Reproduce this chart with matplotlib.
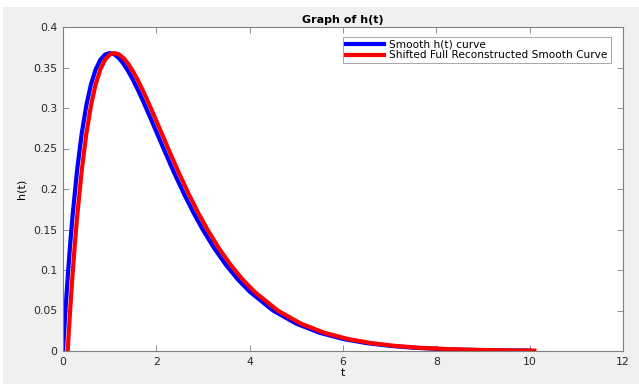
import matplotlib
matplotlib.use("Agg")
import matplotlib.pyplot as plt
from matplotlib.patches import Rectangle
from matplotlib.ticker import FuncFormatter

plt.rcParams['font.family'] = ['DejaVu Sans']

# values
t = [0, 0.05, 0.1, 0.15, 0.2, 0.3, 0.4, 0.5, 0.6, 0.7, 0.8, 0.9, 1.0, 1.1, 1.2, 1.3,
     1.4, 1.5, 1.6, 1.7, 1.8, 1.9, 2.0, 2.2, 2.4, 2.6, 2.8, 3.0, 3.25, 3.5, 3.75,
     4.0, 4.5, 5.0, 5.5, 6.0, 6.5, 7.0, 7.5, 8.0, 8.5, 9.0, 9.5, 10.0]
h = [0, 0.0476, 0.0905, 0.1291, 0.1637, 0.2222, 0.2681, 0.3033, 0.3293, 0.3476,
     0.3595, 0.3659, 0.3679, 0.3662, 0.3614, 0.3543, 0.3452, 0.3347, 0.3230, 0.3106,
     0.2975, 0.2842, 0.2707, 0.2438, 0.2177, 0.1931, 0.1703, 0.1494, 0.1260, 0.1057,
     0.0882, 0.0733, 0.0500, 0.0337, 0.0225, 0.0149, 0.0098, 0.0064, 0.0041, 0.0027,
     0.0017, 0.0011, 0.0007, 0.0005]
t_shift = [v + 0.1 for v in t]
h_shift = h

fig = plt.figure(figsize=(6.39, 3.84), dpi=100, facecolor='#f0f0f0')
# white border strips of the screenshot
fig.patches.append(Rectangle((0, 1 - 7/384), 1, 7/384, transform=fig.transFigure,
                             facecolor='white', edgecolor='none', zorder=0))
fig.patches.append(Rectangle((0, 0), 3/639, 1, transform=fig.transFigure,
                             facecolor='white', edgecolor='none', zorder=0))

ax = fig.add_axes([63/639, 33/384, 560/639, 324/384])
ax.plot(t, h, color='#0000ff', lw=3, label='Smooth h(t) curve')
ax.plot(t_shift, h_shift, color='#ff0000', lw=3, label='Shifted Full Reconstructed Smooth Curve')

ax.set_xlim(0, 12)
ax.set_ylim(0, 0.4)
ax.set_xticks([0, 2, 4, 6, 8, 10, 12])
ax.set_yticks([0, 0.05, 0.1, 0.15, 0.2, 0.25, 0.3, 0.35, 0.4])
ax.yaxis.set_major_formatter(FuncFormatter(lambda v, p: '%g' % round(v, 2)))
ax.tick_params(direction='in', top=True, right=True, length=4, width=0.6,
               labelsize=7.8, colors='#7f7f7f', labelcolor='#262626', pad=4)
for s in ax.spines.values():
    s.set_color('#7f7f7f')
    s.set_linewidth(0.8)

ax.set_title('Graph of h(t)', fontsize=8, fontweight='bold', pad=3)
ax.set_xlabel('t', fontsize=8, labelpad=1)
ax.set_ylabel('h(t)', fontsize=8, labelpad=5)

leg = ax.legend(loc='upper right', bbox_to_anchor=(0.982, 0.977), fontsize=7.6,
                fancybox=False, edgecolor='#7f7f7f', handlelength=3.6,
                borderpad=0.3, labelspacing=0.05, handletextpad=0.5,
                borderaxespad=0.2)
leg.get_frame().set_linewidth(0.6)

fig.savefig('out.png', dpi=100, facecolor=fig.get_facecolor())
